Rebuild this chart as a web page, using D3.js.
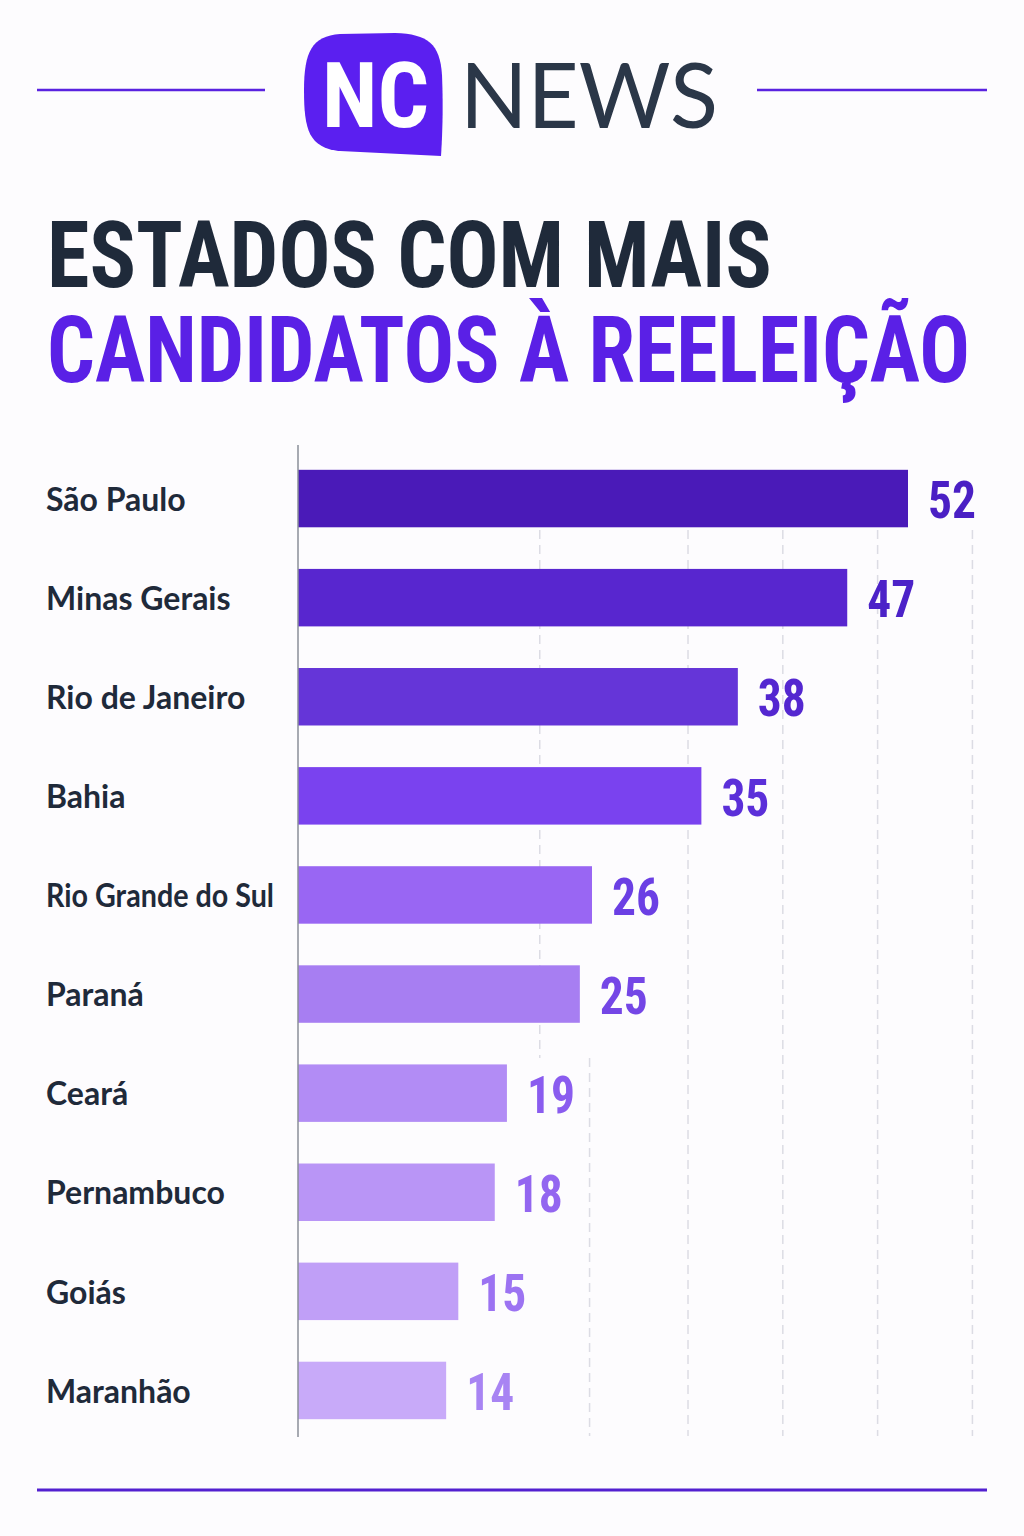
<!DOCTYPE html>
<html>
<head>
<meta charset="utf-8">
<script src="https://cdn.jsdelivr.net/npm/d3@7"></script>
<style>
  html, body { margin: 0; padding: 0; background: #fdfcfe; }
  svg { display: block; }
</style>
</head>
<body>
<div class="holder"></div>
<script>
// data
const states = ["São Paulo", "Minas Gerais", "Rio de Janeiro", "Bahia", "Rio Grande do Sul",
  "Paraná", "Ceará", "Pernambuco", "Goiás", "Maranhão"]
const candidates = [52, 47, 38, 35, 26, 25, 19, 18, 15, 14]
const gridTicks = [21.7, 25.8, 33.9, 41.7, 49.5, 57.3]
const titleTop = "ESTADOS COM MAIS"
const titleBottom = "CANDIDATOS À REELEIÇÃO"

const wd = 1024
const ht = 1536
const purple = "#5a22e0"
const dark = "#1f2a3a"
const condensed = "'Liberation Sans Narrow', 'Roboto Condensed', 'DejaVu Sans Condensed', 'Arial Narrow', sans-serif"

// bar fills, darkest first
const barCols = ["#4a1ab8", "#5826cf", "#6535d8", "#7a42ef", "#9966f3",
  "#a77ef2", "#b28cf5", "#b995f6", "#c09ff7", "#c8aaf9"]
const labelCols = ["#4a1fc4", "#4c22c8", "#5427d0", "#5b2fd9", "#6b3fe4",
  "#7446e6", "#8a5cef", "#9366f0", "#9c73f2", "#a884f3"]

const svg = d3.select(".holder").append("svg")
  .attr("width", wd)
  .attr("height", ht)
  .attr("viewBox", `0 0 ${wd} ${ht}`)

svg.append("rect").attr("width", wd).attr("height", ht).attr("fill", "#fdfcfe")

// ---- header ----
const head = svg.append("g")
head.append("line").attr("x1", 37).attr("x2", 265).attr("y1", 90).attr("y2", 90)
  .style("stroke", purple).style("stroke-width", "2.5px")
head.append("line").attr("x1", 757).attr("x2", 987).attr("y1", 90).attr("y2", 90)
  .style("stroke", purple).style("stroke-width", "2.5px")

// logo blob (rounded box with the corner pulled down)
head.append("path")
  .attr("d", "M 340,34 C 312,36 304,52 304,90 C 304,130 309,148 340,151 L 441,156 C 443,125 443,100 442,75 C 440,44 428,34 395,33 Z")
  .attr("fill", "#5b1ff0")

head.append("text")
  .attr("x", 322).attr("y", 127)
  .attr("textLength", 107).attr("lengthAdjust", "spacingAndGlyphs")
  .style("font-family", condensed).style("font-weight", 700)
  .style("font-size", "90px").style("fill", "#fff")
  .text("NC")

head.append("text")
  .attr("x", 460).attr("y", 128)
  .attr("textLength", 258).attr("lengthAdjust", "spacingAndGlyphs")
  .style("font-family", "Lato, 'Open Sans', sans-serif").style("font-weight", 400)
  .style("font-size", "92px").style("fill", "#2b3748")
  .text("NEWS")

// ---- title ----
svg.append("text")
  .attr("x", 47).attr("y", 287)
  .attr("textLength", 725).attr("lengthAdjust", "spacingAndGlyphs")
  .style("font-family", condensed).style("font-weight", 700)
  .style("font-size", "92px").style("fill", dark)
  .text(titleTop)

svg.append("text")
  .attr("x", 47).attr("y", 382)
  .attr("textLength", 923).attr("lengthAdjust", "spacingAndGlyphs")
  .style("font-family", condensed).style("font-weight", 700)
  .style("font-size", "92px").style("fill", "#5a20e6")
  .text(titleBottom)

// ---- chart ----
const axisX = 298

const x = d3.scaleLinear()
  .domain([0, 52])
  .range([276, 908])

const y = d3.scaleBand()
  .domain(states)
  .range([449, 1440])
  .paddingInner(0.42)
  .paddingOuter(0.21)

const rows = states.map((s, i) => ({state: s, value: candidates[i], i: i}))

// dashed grid; the first two lines only show on part of the plot
const gridGroup = svg.append("g")
gridGroup.selectAll("line")
  .data(gridTicks)
  .enter()
  .append("line")
  .attr("x1", d => x(d)).attr("x2", d => x(d))
  .attr("y1", (d, i) => i === 1 ? 1058 : 530)
  .attr("y2", (d, i) => i === 0 ? 1058 : 1436)
  .style("stroke", "#dcdce4")
  .style("stroke-width", "1.5px")
  .style("stroke-dasharray", "9,6")

const barGroup = svg.append("g")
barGroup.selectAll("rect")
  .data(rows)
  .enter()
  .append("rect")
  .attr("x", axisX)
  .attr("y", d => y(d.state))
  .attr("width", d => x(d.value) - axisX)
  .attr("height", y.bandwidth())
  .attr("fill", d => barCols[d.i])

svg.append("line")
  .attr("x1", axisX).attr("x2", axisX).attr("y1", 445).attr("y2", 1437)
  .style("stroke", "#8a8f99").style("stroke-width", "1.5px")

// state names (squeeze the long one so it stays left of the axis)
svg.append("g").selectAll("text")
  .data(rows)
  .enter()
  .append("text")
  .attr("x", 46)
  .attr("y", d => y(d.state) + y.bandwidth() / 2 + 1)
  .attr("dy", "0.35em")
  .style("font-family", "Lato, 'Open Sans', sans-serif")
  .style("font-weight", 700)
  .style("font-size", "32px")
  .style("fill", dark)
  .text(d => d.state)
  .each(function() {
    if (this.getComputedTextLength() > 228) {
      d3.select(this).attr("textLength", 228).attr("lengthAdjust", "spacingAndGlyphs")
    }
  })

// value labels
svg.append("g").selectAll("text")
  .data(rows)
  .enter()
  .append("text")
  .attr("x", d => x(d.value) + 20)
  .attr("y", d => y(d.state) + y.bandwidth() / 2 + 1)
  .attr("dy", "0.36em")
  .attr("textLength", d => String(d.value).length * 24)
  .attr("lengthAdjust", "spacingAndGlyphs")
  .style("font-family", condensed)
  .style("font-weight", 700)
  .style("font-size", "52px")
  .style("fill", d => labelCols[d.i])
  .text(d => d.value)

// footer rule
svg.append("line").attr("x1", 37).attr("x2", 987).attr("y1", 1490).attr("y2", 1490)
  .style("stroke", "#5320d0").style("stroke-width", "3px")
</script>
</body>
</html>
